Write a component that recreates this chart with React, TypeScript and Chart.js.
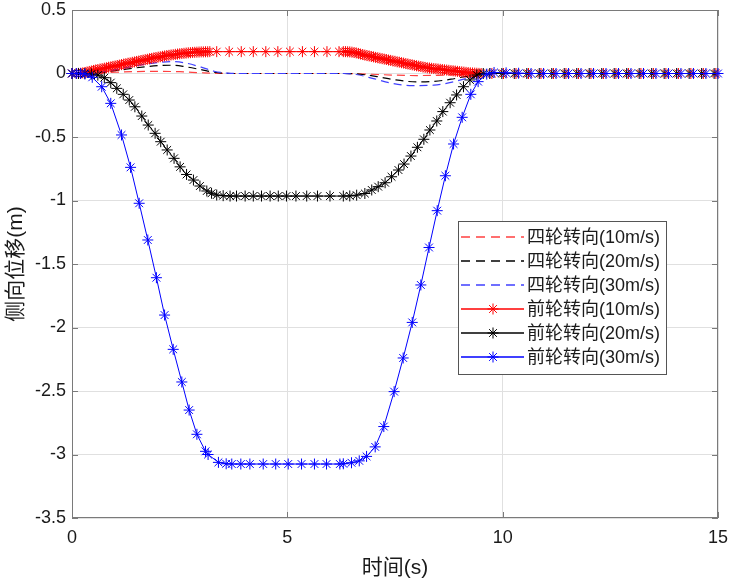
import React, { useEffect, useRef } from "react";
import { Chart, registerables } from "chart.js";
Chart.register(...registerables);

// ---------------- data ----------------
const xTickValues = [0, 5, 10, 15];
const yTickValues = [0.5, 0, -0.5, -1, -1.5, -2, -2.5, -3, -3.5];

const xTitle = "时间(s)";
const yTitle = "侧向位移(m)";

const seriesLabels = [
  "四轮转向(10m/s)",
  "四轮转向(20m/s)",
  "四轮转向(30m/s)",
  "前轮转向(10m/s)",
  "前轮转向(20m/s)",
  "前轮转向(30m/s)",
];

// four-wheel steering (dashed) [t, y]
const fourWheel10: [number, number][] = [
  [0, 0], [0.5, 0.004], [1.0, 0.01], [1.5, 0.015], [2.0, 0.017], [2.5, 0.014], [3.0, 0.006],
  [3.4, 0.001], [3.8, 0], [6.3, 0], [6.7, -0.003], [7.1, -0.008], [7.5, -0.013], [8.0, -0.016],
  [8.5, -0.014], [9.0, -0.008], [9.4, -0.002], [9.8, 0], [15, 0],
];
const fourWheel20: [number, number][] = [
  [0, 0], [0.5, 0.006], [1.0, 0.022], [1.5, 0.045], [2.0, 0.062], [2.3, 0.065], [2.6, 0.055],
  [3.0, 0.03], [3.3, 0.01], [3.7, 0], [6.3, 0], [6.7, -0.006], [7.1, -0.025], [7.5, -0.05],
  [8.0, -0.066], [8.4, -0.062], [8.8, -0.045], [9.2, -0.02], [9.5, -0.005], [9.8, 0], [15, 0],
];
const fourWheel30: [number, number][] = [
  [0, 0], [0.5, 0.008], [1.0, 0.03], [1.5, 0.062], [2.0, 0.087], [2.3, 0.094], [2.6, 0.085],
  [3.0, 0.05], [3.3, 0.018], [3.6, 0.003], [3.9, 0], [6.3, 0], [6.6, -0.008], [7.0, -0.04],
  [7.4, -0.075], [7.9, -0.095], [8.4, -0.092], [8.8, -0.07], [9.2, -0.035], [9.5, -0.01],
  [9.8, 0], [15, 0],
];

// front-wheel steering (solid with * markers) [t, y]
const frontWheel10: [number, number][] = [
  [0, 0], [0.1, 0], [0.15, 0.001], [0.2, 0.002], [0.25, 0.005], [0.3, 0.008], [0.35, 0.012],
  [0.4, 0.016], [0.45, 0.02], [0.5, 0.024], [0.55, 0.028], [0.6, 0.031], [0.65, 0.035],
  [0.7, 0.038], [0.75, 0.042], [0.8, 0.045], [0.85, 0.049], [0.9, 0.052], [0.95, 0.056],
  [1.0, 0.059], [1.05, 0.063], [1.1, 0.066], [1.15, 0.07], [1.2, 0.074], [1.25, 0.077],
  [1.3, 0.081], [1.35, 0.084], [1.4, 0.088], [1.45, 0.091], [1.5, 0.095], [1.55, 0.098],
  [1.6, 0.102], [1.65, 0.105], [1.7, 0.109], [1.75, 0.112], [1.8, 0.116], [1.85, 0.119],
  [1.9, 0.123], [1.95, 0.126], [2.0, 0.129], [2.05, 0.132], [2.1, 0.135], [2.15, 0.138],
  [2.2, 0.141], [2.25, 0.143], [2.3, 0.146], [2.35, 0.148], [2.4, 0.151], [2.45, 0.153],
  [2.5, 0.155], [2.55, 0.157], [2.6, 0.159], [2.65, 0.161], [2.7, 0.163], [2.75, 0.164],
  [2.8, 0.166], [2.85, 0.167], [2.9, 0.168], [2.95, 0.169], [3.0, 0.17], [3.05, 0.17],
  [3.1, 0.171], [3.15, 0.171], [3.2, 0.172],
  [3.36, 0.172], [3.65, 0.172], [3.93, 0.172], [4.21, 0.172], [4.5, 0.172], [4.78, 0.172],
  [5.06, 0.172], [5.35, 0.172], [5.63, 0.172], [5.92, 0.172], [6.2, 0.172],
  [6.3, 0.172], [6.35, 0.172], [6.4, 0.171], [6.45, 0.17], [6.5, 0.168], [6.55, 0.165],
  [6.6, 0.162], [6.65, 0.158], [6.7, 0.153], [6.75, 0.149], [6.8, 0.145], [6.85, 0.141],
  [6.9, 0.138], [6.95, 0.134], [7.0, 0.131], [7.05, 0.127], [7.1, 0.124], [7.15, 0.12],
  [7.2, 0.117], [7.25, 0.113], [7.3, 0.11], [7.35, 0.106], [7.4, 0.103], [7.45, 0.099],
  [7.5, 0.096], [7.55, 0.092], [7.6, 0.089], [7.65, 0.085], [7.7, 0.082], [7.75, 0.078],
  [7.8, 0.075], [7.85, 0.071], [7.9, 0.068], [7.95, 0.064], [8.0, 0.061], [8.05, 0.058],
  [8.1, 0.055], [8.15, 0.051], [8.2, 0.048], [8.25, 0.045], [8.3, 0.043], [8.35, 0.041],
  [8.4, 0.039], [8.45, 0.037], [8.5, 0.035], [8.55, 0.033], [8.6, 0.031], [8.65, 0.029],
  [8.7, 0.027], [8.75, 0.025], [8.8, 0.023], [8.85, 0.021], [8.9, 0.019], [8.95, 0.017],
  [9.0, 0.015], [9.05, 0.013], [9.1, 0.011], [9.15, 0.009], [9.2, 0.007], [9.25, 0.005],
  [9.3, 0.004], [9.35, 0.003], [9.4, 0.002], [9.45, 0.001], [9.5, 0],
  [9.75, 0], [10.02, 0], [10.31, 0], [10.6, 0], [10.89, 0], [11.18, 0], [11.47, 0],
  [11.76, 0], [12.05, 0], [12.34, 0], [12.63, 0], [12.92, 0], [13.21, 0], [13.5, 0],
  [13.79, 0], [14.08, 0], [14.37, 0], [14.66, 0], [14.95, 0],
];
const frontWheel20: [number, number][] = [
  [0, 0], [0.15, 0], [0.3, 0], [0.45, -0.004], [0.6, -0.013], [0.75, -0.033], [0.9, -0.072],
  [1.04, -0.117], [1.19, -0.164], [1.33, -0.209], [1.46, -0.262], [1.62, -0.335],
  [1.77, -0.406], [1.93, -0.471], [2.06, -0.537], [2.21, -0.602], [2.37, -0.668],
  [2.51, -0.735], [2.66, -0.795], [2.82, -0.839], [2.97, -0.886], [3.13, -0.925],
  [3.24, -0.943], [3.36, -0.957], [3.51, -0.962], [3.67, -0.965], [3.82, -0.965],
  [4.02, -0.965], [4.21, -0.965], [4.4, -0.965], [4.6, -0.965], [4.79, -0.965],
  [4.98, -0.965], [5.2, -0.965], [5.45, -0.965], [5.7, -0.965], [5.99, -0.965],
  [6.3, -0.965], [6.45, -0.964], [6.61, -0.958], [6.8, -0.945], [6.96, -0.917],
  [7.11, -0.891], [7.27, -0.86], [7.42, -0.813], [7.58, -0.76], [7.71, -0.713],
  [7.87, -0.65], [8.02, -0.581], [8.17, -0.518], [8.31, -0.445], [8.47, -0.374],
  [8.61, -0.3], [8.78, -0.23], [8.93, -0.169], [9.09, -0.104], [9.24, -0.051],
  [9.4, -0.012], [9.55, 0], [9.7, 0],
  [9.98, 0], [10.27, 0], [10.56, 0], [10.85, 0], [11.14, 0], [11.43, 0], [11.72, 0],
  [12.01, 0], [12.3, 0], [12.59, 0], [12.88, 0], [13.17, 0], [13.46, 0], [13.75, 0],
  [14.04, 0], [14.33, 0], [14.62, 0], [14.91, 0],
];
const frontWheel30: [number, number][] = [
  [0, 0], [0.1, 0], [0.2, 0], [0.3, -0.004], [0.47, -0.03], [0.69, -0.104], [0.9, -0.235],
  [1.15, -0.484], [1.36, -0.739], [1.56, -1.022], [1.76, -1.311], [1.96, -1.608],
  [2.15, -1.902], [2.35, -2.172], [2.55, -2.429], [2.72, -2.65], [2.9, -2.841],
  [3.1, -2.975], [3.16, -3.0], [3.4, -3.062], [3.58, -3.073], [3.71, -3.075],
  [3.92, -3.075], [4.13, -3.075], [4.44, -3.075], [4.73, -3.075], [5.02, -3.075],
  [5.33, -3.075], [5.63, -3.075], [5.91, -3.075], [6.22, -3.075], [6.3, -3.073],
  [6.49, -3.065], [6.67, -3.05], [6.84, -3.015], [7.04, -2.94], [7.24, -2.78],
  [7.48, -2.505], [7.69, -2.24], [7.9, -1.96], [8.1, -1.665], [8.29, -1.37],
  [8.48, -1.08], [8.67, -0.805], [8.86, -0.555], [9.06, -0.345], [9.26, -0.164],
  [9.43, -0.064], [9.63, -0.005], [9.8, 0.008], [10.08, 0.005], [10.37, 0.002],
  [10.66, 0], [10.95, 0], [11.24, 0], [11.53, 0], [11.82, 0], [12.11, 0], [12.4, 0],
  [12.69, 0], [12.98, 0], [13.27, 0], [13.56, 0], [13.85, 0], [14.14, 0], [14.43, 0],
  [14.72, 0], [15.0, 0],
];

// ---------------- styles ----------------
const FONT = '"Liberation Sans", Arial, "Noto Sans CJK SC", sans-serif';
const AXIS_COLOR = "#7a7a7a";
const GRID_COLOR = "#e0e0e0";
const TEXT_COLOR = "#1a1a1a";
const RED = "#ff0000";
const BLACK = "#000000";
const BLUE = "#0000ff";
const RED_DASH = "#ff4040";
const BLUE_DASH = "#4040ff";

const colors = [RED_DASH, BLACK, BLUE_DASH, RED, BLACK, BLUE];
const dashed = [true, true, true, false, false, false];

function toPoints(arr: [number, number][]) {
  return arr.map(([x, y]) => ({ x, y }));
}

function drawStar(ctx: CanvasRenderingContext2D, x: number, y: number, r: number) {
  ctx.beginPath();
  for (let k = 0; k < 4; k++) {
    const a = (k * Math.PI) / 4;
    const dx = Math.cos(a) * r;
    const dy = Math.sin(a) * r;
    ctx.moveTo(x - dx, y - dy);
    ctx.lineTo(x + dx, y + dy);
  }
  ctx.stroke();
}

const framePlugin = {
  id: "frame",
  beforeDatasetsDraw(chart: any) {
    const { ctx, chartArea: a, scales } = chart;
    ctx.save();
    ctx.strokeStyle = AXIS_COLOR;
    ctx.lineWidth = 1;
    ctx.strokeRect(a.left + 0.5, a.top + 0.5, a.right - a.left - 1, a.bottom - a.top - 1);
    const tl = 6;
    ctx.beginPath();
    for (const v of xTickValues) {
      const px = Math.round(scales.x.getPixelForValue(v)) + 0.5;
      ctx.moveTo(px, a.bottom);
      ctx.lineTo(px, a.bottom - tl);
      ctx.moveTo(px, a.top);
      ctx.lineTo(px, a.top + tl);
    }
    for (const v of yTickValues) {
      const py = Math.round(scales.y.getPixelForValue(v)) + 0.5;
      ctx.moveTo(a.left, py);
      ctx.lineTo(a.left + tl, py);
      ctx.moveTo(a.right, py);
      ctx.lineTo(a.right - tl, py);
    }
    ctx.stroke();
    ctx.restore();
  },
  afterDraw(chart: any) {
    const { ctx, chartArea: a } = chart;
    const bx = a.left + 386;
    const by = a.top + 211;
    const bw = 208;
    const bh = 153;
    ctx.save();
    ctx.fillStyle = "#ffffff";
    ctx.fillRect(bx, by, bw, bh);
    ctx.strokeStyle = "#555555";
    ctx.lineWidth = 1;
    ctx.strokeRect(bx + 0.5, by + 0.5, bw, bh);
    ctx.font = `18px ${FONT}`;
    ctx.textBaseline = "middle";
    ctx.textAlign = "left";
    for (let i = 0; i < seriesLabels.length; i++) {
      const cy = Math.round(by + 16 + i * 24);
      ctx.strokeStyle = colors[i];
      ctx.lineWidth = 1.5;
      ctx.setLineDash(dashed[i] ? [9, 6] : []);
      ctx.beginPath();
      ctx.moveTo(bx + 3, cy);
      ctx.lineTo(bx + 66, cy);
      ctx.stroke();
      ctx.setLineDash([]);
      ctx.lineWidth = 1;
      if (!dashed[i]) drawStar(ctx, bx + 35, cy, 5.5);
      ctx.fillStyle = TEXT_COLOR;
      ctx.fillText(seriesLabels[i], bx + 69, cy + 1);
    }
    ctx.restore();
  },
};

export default function App() {
  const canvasRef = useRef<HTMLCanvasElement | null>(null);

  useEffect(() => {
    if (!canvasRef.current) return;
    const series = [fourWheel10, fourWheel20, fourWheel30, frontWheel10, frontWheel20, frontWheel30];
    const datasets = series.map((s, i) => ({
      label: seriesLabels[i],
      data: toPoints(s),
      borderColor: colors[i],
      backgroundColor: colors[i],
      borderWidth: dashed[i] ? 1.2 : 1,
      borderDash: dashed[i] ? [8, 5] : [],
      pointStyle: "star" as const,
      pointRadius: dashed[i] ? 0 : 5.5,
      pointBorderWidth: 1,
      pointBorderColor: colors[i],
      pointHoverRadius: 0,
      cubicInterpolationMode: dashed[i] ? ("monotone" as const) : ("default" as const),
      tension: 0,
      clip: false as any,
      order: 5 - i,
    }));

    const chart = new Chart(canvasRef.current, {
      type: "line",
      data: { datasets },
      options: {
        animation: false,
        responsive: false,
        events: [],
        layout: { padding: { top: 10, right: 14, left: 0, bottom: 0 } },
        plugins: { legend: { display: false }, tooltip: { enabled: false } },
        scales: {
          x: {
            type: "linear",
            min: 0,
            max: 15,
            afterFit: (s: any) => {
              s.height = 64;
              s.paddingLeft = 0;
              s.paddingRight = 0;
            },
            afterBuildTicks: (s: any) => {
              s.ticks = xTickValues.map((v) => ({ value: v }));
            },
            ticks: {
              color: TEXT_COLOR,
              font: { family: FONT, size: 18 },
              padding: 9,
              maxRotation: 0,
              callback: (v: any) => String(v),
            },
            grid: { color: GRID_COLOR, drawTicks: false, lineWidth: 1 },
            border: { display: false },
            title: {
              display: true,
              text: xTitle,
              color: TEXT_COLOR,
              font: { family: FONT, size: 21 },
              padding: { top: 0, bottom: 1 },
            },
          },
          y: {
            type: "linear",
            min: -3.5,
            max: 0.5,
            afterFit: (s: any) => {
              s.width = 72;
              s.paddingTop = 0;
              s.paddingBottom = 0;
            },
            afterBuildTicks: (s: any) => {
              s.ticks = yTickValues.slice().reverse().map((v) => ({ value: v }));
            },
            ticks: {
              color: TEXT_COLOR,
              font: { family: FONT, size: 18 },
              padding: 6,
              callback: (v: any) => String(v),
            },
            grid: { color: GRID_COLOR, drawTicks: false, lineWidth: 1 },
            border: { display: false },
            title: {
              display: true,
              text: yTitle,
              color: TEXT_COLOR,
              font: { family: FONT, size: 21 },
              padding: { top: 4, bottom: 0 },
            },
          },
        },
      },
      plugins: [framePlugin],
    });
    return () => chart.destroy();
  }, []);

  return (
    <div style={{ position: "fixed", left: 0, top: 0, width: 732, height: 582, background: "#fff" }}>
      <canvas ref={canvasRef} width={732} height={582} style={{ display: "block" }} />
    </div>
  );
}
